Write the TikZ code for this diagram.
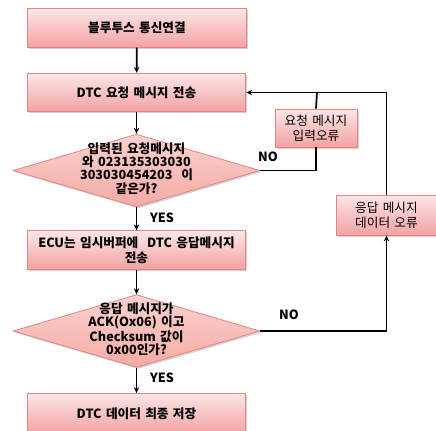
\documentclass[tikz,border=0pt]{standalone}
\usepackage{fontspec}
\setmainfont[WordSpace=1.5]{Noto Sans CJK KR}
\usetikzlibrary{shapes.geometric,arrows.meta,shadows}
\definecolor{boxtop}{HTML}{FDE6E6}
\definecolor{boxbot}{HTML}{F3A2A2}
\definecolor{boxline}{HTML}{E08686}
\definecolor{dtop}{HTML}{FBD3CF}
\definecolor{dbot}{HTML}{F5AAA5}
\begin{document}
\begin{tikzpicture}[x=0.75pt,y=-0.75pt,
  font=\fontsize{9.5}{11.2}\selectfont,
  boxstyle/.style={draw=boxline,line width=0.6pt,top color=boxtop,bottom color=boxbot,
    drop shadow={shadow xshift=1.2pt,shadow yshift=-1.2pt,opacity=0.35},
    inner sep=0pt,align=center},
  mainbox/.style={boxstyle,minimum width=164pt,minimum height=28.8pt,font=\fontsize{9.5}{11.2}\selectfont\bfseries},
  errbox/.style={boxstyle,font=\fontsize{9.5}{11.2}\selectfont},
  dia/.style={diamond,draw=boxline,line width=0.6pt,top color=dtop,bottom color=dbot,
    drop shadow={shadow xshift=1.2pt,shadow yshift=-1.2pt,opacity=0.35},
    inner sep=0pt,minimum width=185.25pt,minimum height=54.5pt,aspect=3.38},
  dtext/.style={align=center,font=\fontsize{9.5}{9.9}\selectfont\bfseries},
  flow/.style={line width=1.3pt,-{Stealth[length=4.5pt,width=4pt]}},
  plain/.style={line width=1.3pt},
  lbl/.style={font=\fontsize{9.5}{10}\selectfont\bfseries}]
\useasboundingbox (0,0) rectangle (436,430);
\begin{scope}
\clip (0,0) rectangle (436,430);
\node[mainbox] (b1) at (137,28) {블루투스 통신연결};
\node[mainbox] (b2) at (136.5,92.5) {DTC 요청 메시지 전송};
\node[dia] (d1) at (136.5,170.5) {};
\node[dtext] (d1t) at (136.5,168.5) {입력된 요청메시지\\와 023135303030\\303030454203\ \ 이\\같은가?};
\node[mainbox] (b3) at (136.5,250) {ECU는 임시버퍼에\ \ DTC 응답메시지\\전송};
\node[dia] (d2) at (136.5,331) {};
\node[dtext] (d2t) at (136.5,329.5) {응답 메시지가\\ACK(Ox06) 이고\\Checksum 값이\\0x00인가?};
\node[mainbox,minimum height=30pt] (b4) at (136.5,413.5) {DTC 데이터 최종 저장};
\node[errbox,minimum width=61.5pt,minimum height=28.5pt] (e1) at (316,128) {요청 메시지\\입력오류};
\node[errbox,minimum width=74.5pt,minimum height=30pt] (e2) at (386.5,215) {응답 메시지\\데이터 오류};
\end{scope}
\coordinate (loopA) at (317,92.5);
\draw[flow] (b1) -- (b2);
\draw[flow] (b2) -- (d1);
\draw[flow] (d1) -- (b3);
\draw[flow] (b3) -- (d2);
\draw[flow] (d2) -- (b4);
\draw[plain] (d1.east) -| (e1.south);
\draw[plain] (e1.north) -- (loopA);
\draw[flow] (d2.east) -| (e2.south);
\draw[flow] (e2.north) |- (b2.east);
\node[lbl] (yes1) at (162,218) {YES};
\node[lbl] (no1) at (268,157) {NO};
\node[lbl] (no2) at (289,315) {NO};
\node[lbl] (yes2) at (162,378) {YES};
\end{tikzpicture}
\end{document}
